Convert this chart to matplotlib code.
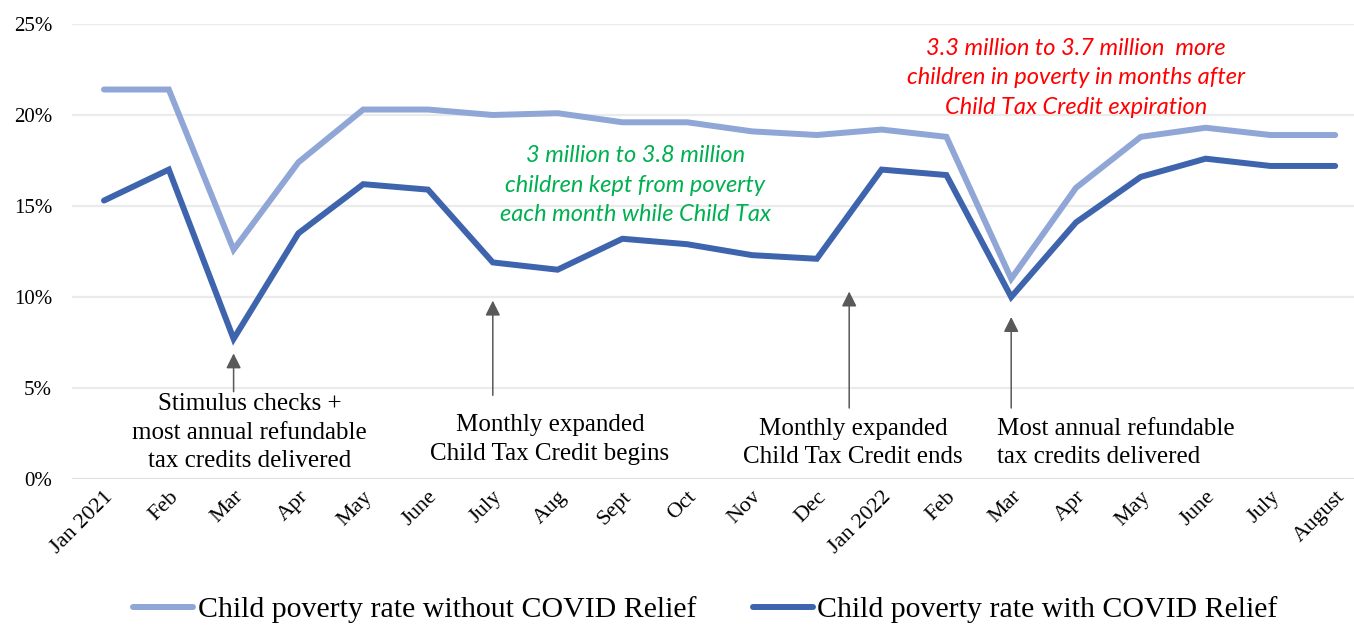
import matplotlib
matplotlib.use("Agg")
import matplotlib.pyplot as plt

months = ["Jan 2021", "Feb", "Mar", "Apr", "May", "June", "July", "Aug", "Sept",
          "Oct", "Nov", "Dec", "Jan 2022", "Feb", "Mar", "Apr", "May", "June",
          "July", "August"]
without_relief = [21.4, 21.4, 12.6, 17.4, 20.3, 20.3, 20.0, 20.1, 19.6, 19.6,
                  19.1, 18.9, 19.2, 18.8, 11.0, 16.0, 18.8, 19.3, 18.9, 18.9]
with_relief = [15.3, 17.0, 7.7, 13.5, 16.2, 15.9, 11.9, 11.5, 13.2, 12.9,
               12.3, 12.1, 17.0, 16.7, 10.0, 14.1, 16.6, 17.6, 17.2, 17.2]
y_ticks = [0, 5, 10, 15, 20, 25]

LIGHT = "#8FA6D6"
DARK = "#3D64AD"
ARROW = "#595959"
SERIF = ["Liberation Serif", "DejaVu Serif"]
ITALIC_SANS = ["Lato", "DejaVu Sans"]

W, H = 1354, 627
fig = plt.figure(figsize=(W / 100, H / 100), dpi=100)
# axes placed in pixel units: x from 71.6 to 1367.6, y from 24 to 479 (top-down)
ax = fig.add_axes([71.6 / W, (H - 479) / H, 1296 / W, 455 / H])
ax.set_xlim(-0.5, len(months) - 0.5)
ax.set_ylim(0, 25)

x = list(range(len(months)))
ax.plot(x, without_relief, color=LIGHT, lw=4.3, solid_capstyle="round",
        solid_joinstyle="miter", label="Child poverty rate without COVID Relief", zorder=3)
ax.plot(x, with_relief, color=DARK, lw=4.3, solid_capstyle="round",
        solid_joinstyle="miter", label="Child poverty rate with COVID Relief", zorder=3)

ax.set_yticks(y_ticks)
ax.set_yticklabels([f"{v}%" for v in y_ticks], fontfamily=SERIF, fontsize=15)
ax.set_xticks(x)
ax.set_xticklabels(months, rotation=45, ha="right", rotation_mode="anchor",
                   fontfamily=SERIF, fontsize=16)
ax.tick_params(axis="both", length=0)
ax.tick_params(axis="y", pad=14)
ax.tick_params(axis="x", pad=6)
ax.grid(axis="y", color="#EBEBEB", lw=1.6, zorder=0)
ax.set_axisbelow(True)
for s in ax.spines.values():
    s.set_visible(False)
ax.axhline(0, color="#DCDCDC", lw=1.8, zorder=1)

# event arrows (x in data units, y in percent)
def event_arrow(xd, y0, y1):
    ax.annotate("", xy=(xd, y1), xytext=(xd, y0),
                arrowprops=dict(arrowstyle="-|>,head_width=0.45,head_length=0.9",
                                color=ARROW, lw=1.1, shrinkA=0, shrinkB=0),
                zorder=4)

event_arrow(2.0, 4.8, 6.9)
event_arrow(6.0, 4.6, 9.8)
event_arrow(11.5, 3.9, 10.3)
event_arrow(14.0, 3.9, 8.9)

event_kw = dict(fontfamily=SERIF, fontsize=18, color="black", va="top",
                linespacing=1.38, zorder=5)
ax.text(2.25, 4.7, "Stimulus checks +\nmost annual refundable\ntax credits delivered",
        ha="center", **event_kw)
ax.text(6.88, 3.55, "Monthly expanded\nChild Tax Credit begins", ha="center", **event_kw)
ax.text(11.56, 3.35, "Monthly expanded\nChild Tax Credit ends", ha="center", **event_kw)
ax.text(13.78, 3.35, "Most annual refundable\ntax credits delivered", ha="left", **event_kw)

note_kw = dict(fontfamily=ITALIC_SANS, style="italic", fontsize=17, ha="center",
               va="center", linespacing=1.5, zorder=5)
ax.text(8.2, 16.15, "3 million to 3.8 million\nchildren kept from poverty\neach month while Child Tax",
        color="#00B050", **note_kw)
ax.text(15.0, 22.05, "3.3 million to 3.7 million  more\nchildren in poverty in months after\nChild Tax Credit expiration",
        color="#FF0000", **note_kw)

leg = fig.legend(loc="center", bbox_to_anchor=(0.521, (H - 610) / H), ncol=2,
                 frameon=False, prop={"family": SERIF, "size": 21.5},
                 handlelength=2.0, handletextpad=0.15, columnspacing=1.9)

fig.savefig("out.png", dpi=100)
